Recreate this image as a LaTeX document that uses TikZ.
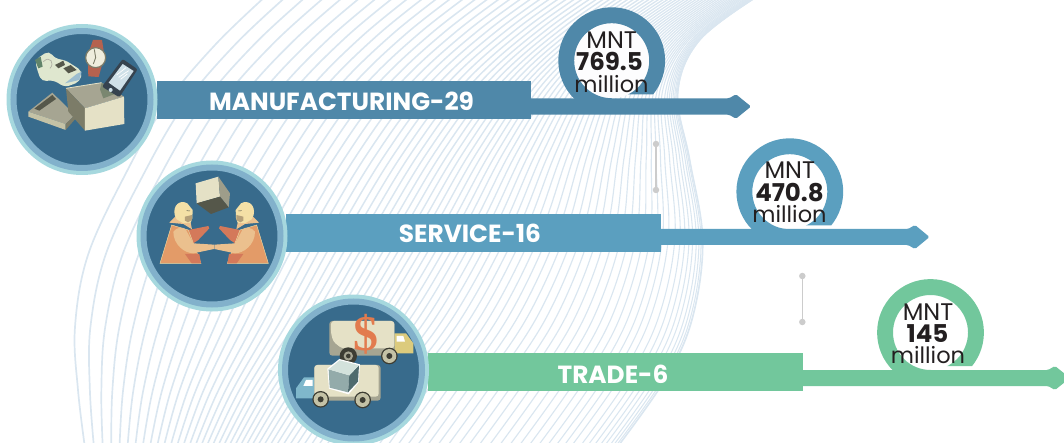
\documentclass[tikz,border=0pt]{standalone}
\usepackage{fontspec}
\setmainfont{Poppins}
\newfontfamily\dollarfont{Liberation Serif}
\definecolor{lineblue}{HTML}{DAE6F0}
\definecolor{barA}{HTML}{4F88A9}
\definecolor{barB}{HTML}{5B9FBF}
\definecolor{barC}{HTML}{72C79C}
\definecolor{ringout}{HTML}{A6D8DE}
\definecolor{ringmid}{HTML}{82B1CB}
\definecolor{disc}{HTML}{386B8C}
\definecolor{ink}{HTML}{231F20}
\definecolor{dotgrey}{HTML}{CCCCCC}
\definecolor{cream}{HTML}{E5E1C6}
\definecolor{olive}{HTML}{7C7C68}
\definecolor{khaki}{HTML}{A6A592}
\definecolor{darkol}{HTML}{55574A}
\definecolor{wheeldk}{HTML}{3D3D33}
\definecolor{wheellt}{HTML}{C4C2A6}
\definecolor{orangeA}{HTML}{E39B68}
\definecolor{orangeB}{HTML}{D4795A}
\definecolor{orangeC}{HTML}{EBC08E}
\definecolor{skin}{HTML}{F4E0A6}
\definecolor{jaw}{HTML}{B5A079}
\definecolor{shoe}{HTML}{DFE7CF}
\definecolor{strap}{HTML}{B5624F}
\definecolor{phone}{HTML}{36434F}
\definecolor{screen}{HTML}{CFE0E8}
\definecolor{cabY}{HTML}{DCCB7D}
\definecolor{cabB}{HTML}{7FB7CB}
\definecolor{dollarc}{HTML}{E27B4E}
\definecolor{cubeF}{HTML}{93ABAA}
\definecolor{cubeR}{HTML}{4F6B6E}
\definecolor{cubeT}{HTML}{D3E2DC}
\tikzset{
  barbox/.style={rectangle,inner sep=0pt,minimum width=374.5pt,minimum height=38pt},
  barlabel/.style={text=white,font=\fontsize{24.8}{24.8}\selectfont\bfseries,inner sep=0pt},
  icondisc/.style={circle,inner sep=0pt,minimum size=137pt,draw=ringmid,line width=6pt,fill=disc},
  sumtxt/.style={text=ink,font=\fontsize{22.5}{22.5}\selectfont,inner sep=0pt},
  sumhead/.style={text=ink,font=\fontsize{24}{24}\selectfont,inner sep=0pt},
  sumbold/.style={text=ink,font=\fontsize{24.5}{24.5}\selectfont\bfseries,inner sep=0pt},
  greydot/.style={circle,fill=dotgrey,inner sep=0pt,minimum size=6.5pt},
  greyline/.style={draw=dotgrey,line width=1.4pt},
  declare function={ip(\a,\b,\c)=\cA*\a+\cB*\b+\cC*\c;}
}
\newcommand{\ringgauge}[4]{%
  \fill[#4] (#1,#2) circle[radius=37.5];
  \begin{scope}
    \clip (#1-60,#2-60) rectangle (#1+60,#2+33.6) (#1-60,#2+33) rectangle (#1,#2+39);
    \fill[#3,even odd rule] (#1,#2) circle[radius=53.4] (#1,#2) circle[radius=37.5];
  \end{scope}}
\newcommand{\arrowbar}[5]{% top, bottom, headstart, tip, colour
  \fill[#5,rounded corners=1.5pt] (500,#1) -- (#3,#1) -- (#3+7,#1-4) -- (#4,{(#1+#2)/2}) -- (#3+7,#2+4) -- (#3,#2) -- (500,#2) -- cycle;}
\begin{document}
\begin{tikzpicture}[x=1pt,y=-1pt]
\useasboundingbox (0,0) rectangle (1064,443);
\begin{scope}
\clip (0,0) rectangle (1064,443);
\foreach \i in {0,...,72}{
  \pgfmathsetmacro{\s}{\i/72}
  \pgfmathsetmacro{\u}{1-(1-\s)^1.8}
  \pgfmathsetmacro{\cA}{(1-\u)^2}
  \pgfmathsetmacro{\cC}{\u^5}
  \pgfmathsetmacro{\cB}{1-\cA-\cC}
  \pgfmathsetmacro{\lw}{1.7-0.7*\s}
  \draw[lineblue,line width=\lw pt] plot[smooth,tension=0.6] coordinates {
    ({ip(267,720,760)},{ip(-5,-30,-5)})
    ({ip(215,640,700)},{ip(45,20,40)})
    ({ip(165,570,678)},{ip(105,75,93)})
    ({ip(125,510,690)},{ip(175,145,160)})
    ({ip(88,455,703)},{ip(255,225,240)})
    ({ip(75,390,693)},{ip(327,315,317)})
    ({ip(78,320,667)},{ip(390,395,377)})
    ({ip(85,270,617)},{ip(448,460,448)})
  };
}
\end{scope}

% ---- rings and arrows
\ringgauge{611.7}{60.7}{barA}{white!94!lineblue}
\ringgauge{789.8}{191.7}{barB}{white}
\ringgauge{930.5}{332.5}{barC}{white}
\arrowbar{98.3}{114.7}{729}{751}{barA}
\arrowbar{229}{245}{908}{929.5}{barB}
\arrowbar{370}{386}{1048}{1070}{barC}

% ---- bars
\node[barbox,fill=barA] (barone) at (344,100) {};
\node[barbox,fill=barB] (bartwo) at (473.5,233) {};
\node[barbox,fill=barC] (barthree) at (615.5,372) {};
\node[barlabel] (labone) at (341.5,101) {MANUFACTURING-29};
\node[barlabel] (labtwo) at (470,233) {SERVICE-16};
\node[barlabel] (labthree) at (613,374) {TRADE-6};

% ---- amounts
\node[sumhead] (ma) at (611.7,40.5) {MNT};
\node[sumbold] (va) at (609.5,61.5) {769.5};
\node[sumtxt] (ua) at (611.5,84) {million};
\node[sumhead] (mb) at (789.8,170.5) {MNT};
\node[sumbold] (vb) at (789.5,192.5) {470.8};
\node[sumtxt] (ub) at (789.5,214) {million};
\node[sumhead] (mc) at (928,312) {MNT};
\node[sumbold] (vc) at (927.5,334) {145};
\node[sumtxt] (uc) at (928,355.5) {million};

% ---- grey connectors
\node[greydot] (ga) at (656,144) {};
\node[greydot] (gb) at (656,190) {};
\node[greydot] (gc) at (802.3,276) {};
\node[greydot] (gd) at (802.3,322) {};
\draw[greyline] (ga) -- (gb);
\draw[greyline] (gc) -- (gd);

% ---- icon discs
\foreach \n/\cx/\cy in {one/82/99.5,two/212/236,three/353.5/370}{
  \fill[ringout] (\cx,\cy) circle[radius=75.5];
  \node[icondisc] (icon\n) at (\cx,\cy) {};
}

% ---- icon 1
\begin{scope}[shift={(0,0)},x=0.3333pt,y=-0.3333pt]
  % lid
  \fill[khaki] (85,335) -- (157,278) -- (225,345) -- (197,372) -- cycle;
  \fill[darkol] (103,326) -- (157,285) -- (168,297) -- (118,332) -- cycle;
  \fill[wheellt] (85,335) -- (197,372) -- (197,390) -- (85,350) -- cycle;
  \fill[olive] (197,372) -- (225,345) -- (225,358) -- (197,390) -- cycle;
  % watch
  \fill[strap] (279,120) -- (306,120) -- (311,152) -- (268,152) -- cycle;
  \fill[strap] (264,195) -- (306,195) -- (296,231) -- (265,229) -- cycle;
  \fill[cream!60!white,draw=olive,line width=1.2pt] (287,173) circle[radius=30];
  \draw[olive,line width=0.9pt] (287,173) -- (280,192) (287,173) -- (283,148);
  % box interior
  \fill[khaki] (198,265) -- (305,248) -- (372,290) -- (255,325) -- cycle;
  \fill[olive!85!barC] (300,268) -- (305,248) -- (350,280) -- (310,295) -- cycle;
  % phone
  \fill[phone,rounded corners=2pt] (306,260) -- (368,177) -- (413,208) -- (358,292) -- cycle;
  \fill[screen] (368,192) -- (401,213) -- (360,272) -- (326,248) -- cycle;
  \draw[white,line width=0.7pt] (350,225) -- (378,203) (356,232) -- (386,212) (362,238) -- (382,222);
  \fill[screen] (332,270) circle[radius=6];
  % box faces
  \fill[olive] (198,265) -- (255,325) -- (255,392) -- (205,335) -- cycle;
  \fill[cream] (255,325) -- (372,290) -- (373,372) -- (255,392) -- cycle;
  \draw[cream,line width=0.8pt] (198,265) -- (305,248);
  % shoe
  \fill[shoe,rounded corners=5pt] (105,180) -- (147,152) -- (165,176) -- (195,180) -- (247,213) -- (240,245) -- (195,262) -- (160,240) -- (125,245) -- (113,215) -- cycle;
  \fill[darkol] (165,195) -- (190,182) -- (195,195) -- (175,205) -- cycle;
  \fill[darkol] (190,205) -- (212,195) -- (230,210) -- (205,220) -- cycle;
  \fill[screen!60!barA] (195,250) -- (230,222) -- (245,215) -- (238,240) -- cycle;
  \fill[barC!40!darkol] (105,180) -- (122,170) -- (128,200) -- (115,205) -- cycle;
  \draw[olive!60!white,line width=0.7pt] (130,185) .. controls (150,165) and (165,190) .. (150,205);
\end{scope}

% ---- icon 2
\begin{scope}[shift={(130,150)},x=0.3333pt,y=-0.3333pt]
  \fill[cream] (197,100) -- (265,80) -- (270,140) -- (200,160) -- cycle;
  \fill[khaki!80!olive] (265,80) -- (300,130) -- (296,172) -- (270,140) -- cycle;
  \fill[darkol] (200,160) -- (270,140) -- (296,172) -- (243,192) -- cycle;
  \foreach \m in {1,-1}{
    \begin{scope}[xshift={\m==1 ? 0 : 505/3},xscale=\m]
      \fill[orangeB] (175,240) -- (235,228) -- (238,235) -- (205,270) -- (190,280) -- cycle;
      \fill[orangeA,draw=skin,line width=0.4pt] (90,340) -- (125,225) -- (175,240) -- (213,340) -- cycle;
      \fill[orangeB] (165,312) -- (208,312) -- (213,340) -- (185,340) -- cycle;
      \fill[orangeC] (130,245) .. controls (140,232) and (160,228) .. (168,240) -- (190,280) -- (252,284) -- (252,297) -- (190,310) .. controls (165,310) and (130,285) .. (130,245) -- cycle;
      \fill[orangeC] (118,218) -- (138,198) -- (180,208) -- (186,238) -- (160,222) -- cycle;
      \fill[skin] (134,195) .. controls (128,165) and (150,148) .. (172,160) -- (188,180) -- (187,205) -- (182,218) -- (160,220) -- (140,208) -- cycle;
      \fill[jaw] (165,200) -- (186,195) -- (186,210) -- (174,217) -- (165,212) -- cycle;
      \draw[darkol,line width=0.5pt] (170,182) -- (180,183);
    \end{scope}}
\end{scope}

% ---- icon 3
\begin{scope}[shift={(270,300)},x=0.3333pt,y=-0.3333pt]
  % upper truck
  \fill[cabY] (373,100) -- (408,100) -- (430,130) -- (430,160) -- (373,160) -- cycle;
  \fill[white] (380,108) -- (400,108) -- (405,125) -- (380,125) -- cycle;
  \fill[khaki,rounded corners=3pt] (178,63) rectangle (373,167);
  \fill[cream,rounded corners=3pt] (183,63) -- (373,63) -- (373,145) -- (215,145) -- (190,125) -- (183,100) -- cycle;
  \fill[wheeldk] (235,168) circle[radius=26];
  \fill[khaki] (235,168) circle[radius=14];
  \fill[wheeldk] (235,168) circle[radius=7];
  \fill[wheeldk] (358,168) circle[radius=25];
  \fill[wheellt] (358,168) circle[radius=21];
  \fill[wheeldk] (358,168) circle[radius=9];
  % lower truck
  \fill[cabB] (133,232) -- (102,232) -- (78,265) -- (78,295) -- (133,295) -- cycle;
  \fill[white] (108,240) -- (128,240) -- (128,258) -- (100,258) -- cycle;
  \fill[khaki,rounded corners=3pt] (133,195) rectangle (332,302);
  \fill[cream,rounded corners=3pt] (133,195) rectangle (326,290);
  \fill[wheeldk] (152,298) circle[radius=25];
  \fill[wheellt] (152,298) circle[radius=21];
  \fill[wheeldk] (152,298) circle[radius=9];
  \fill[wheeldk] (278,300) circle[radius=25];
  \fill[wheellt] (278,300) circle[radius=21];
  \fill[wheeldk] (278,300) circle[radius=9];
  % cube
  \fill[white] (172,206) -- (208,177) -- (270,193) -- (266,247) -- (236,283) -- (177,266) -- cycle;
  \fill[cubeF] (176,208) -- (238,226) -- (234,277) -- (179,263) -- cycle;
  \fill[cubeR] (238,226) -- (267,196) -- (264,245) -- (234,277) -- cycle;
  \fill[cubeT] (176,208) -- (209,181) -- (267,196) -- (238,226) -- cycle;
  \node[inner sep=0pt,text=dollarc,font=\fontsize{50}{50}\selectfont\dollarfont\bfseries] (dollar) at (289,104) {\$};
\end{scope}
\end{tikzpicture}
\end{document}
